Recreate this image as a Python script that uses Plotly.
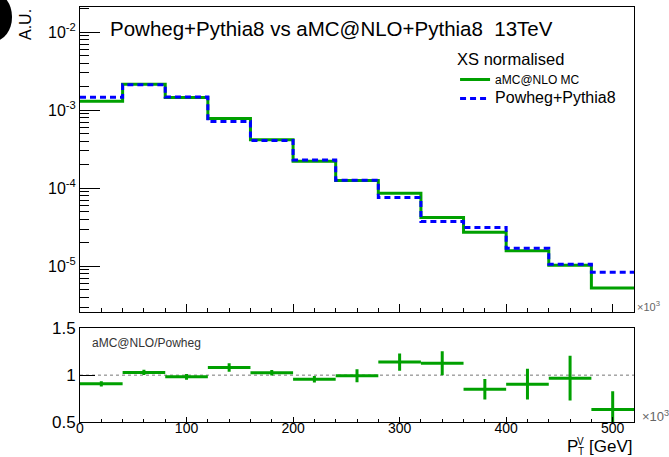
import plotly.graph_objects as go

# pT(V) binning in GeV (40 GeV bins)
bin_edges = [0, 40, 80, 120, 160, 200, 240, 280, 320, 360, 400, 440, 480, 520]

# XS-normalised distributions (A.U.)
amc_nlo = [1.30e-3, 2.15e-3, 1.45e-3, 7.80e-4, 4.16e-4, 2.22e-4, 1.25e-4,
           8.63e-5, 4.20e-5, 2.73e-5, 1.58e-5, 1.03e-5, 5.27e-6]
powheg = [1.46e-3, 2.12e-3, 1.47e-3, 7.14e-4, 4.08e-4, 2.30e-4, 1.26e-4,
          7.58e-5, 3.73e-5, 3.13e-5, 1.70e-5, 1.06e-5, 8.37e-6]

# aMC@NLO / Powheg ratio with statistical uncertainty
ratio = [0.907, 1.029, 0.982, 1.082, 1.025, 0.957, 0.993,
         1.139, 1.128, 0.850, 0.904, 0.968, 0.633]
ratio_err = [0.028, 0.028, 0.03, 0.045, 0.03, 0.035, 0.07,
             0.093, 0.128, 0.109, 0.164, 0.239, 0.196]

y_major = [1e-5, 1e-4, 1e-3, 1e-2]
y_major_text = ["10<sup>-5</sup>", "10<sup>-4</sup>", "10<sup>-3</sup>", "10<sup>-2</sup>"]
y_minor = [m * 10.0 ** e for e in range(-6, -1) for m in range(2, 10)]

GREEN = "#00a000"
BLUE = "#0000ff"
FONT = "Liberation Sans, Arial, Helvetica, sans-serif"

centers = [(a + b) / 2 for a, b in zip(bin_edges[:-1], bin_edges[1:])]
half_widths = [(b - a) / 2 for a, b in zip(bin_edges[:-1], bin_edges[1:])]

fig = go.Figure()

# step histograms: repeat the last value so the final bin closes at the upper edge
fig.add_trace(go.Scatter(
    x=bin_edges, y=amc_nlo + [amc_nlo[-1]], mode="lines", line_shape="hv",
    line=dict(color=GREEN, width=3),
    name='<span style="font-size:12px">aMC@NLO MC</span>',
    xaxis="x", yaxis="y"))
fig.add_trace(go.Scatter(
    x=bin_edges, y=powheg + [powheg[-1]], mode="lines", line_shape="hv",
    line=dict(color=BLUE, width=3, dash="6px,4px"),
    name='<span style="font-size:16px">Powheg+Pythia8</span>',
    xaxis="x", yaxis="y"))

# ratio panel
fig.add_trace(go.Scatter(
    x=centers, y=ratio, mode="markers", marker=dict(size=0.1, color=GREEN),
    error_x=dict(type="data", array=half_widths, color=GREEN, thickness=3, width=0),
    error_y=dict(type="data", array=ratio_err, color=GREEN, thickness=3, width=0),
    showlegend=False, xaxis="x2", yaxis="y2"))

fig.add_shape(type="line", xref="x2 domain", x0=0, x1=1, yref="y2", y0=1, y1=1,
              line=dict(color="#777777", width=1, dash="dot"), layer="below")

axis_common = dict(showline=True, mirror=True, linecolor="black", linewidth=1,
                   showgrid=False, zeroline=False, tickcolor="black")

fig.update_layout(
    width=669, height=457,
    margin=dict(l=80, r=35, t=7, b=35, autoexpand=False),
    paper_bgcolor="white", plot_bgcolor="white",
    font=dict(family=FONT, color="black"),
    xaxis=dict(domain=[0, 1], range=[0, 520], anchor="y", showticklabels=False,
               ticks="inside", tick0=0, dtick=100, ticklen=8,
               minor=dict(ticks="inside", dtick=20, tick0=0, ticklen=4, tickcolor="black"),
               **axis_common),
    yaxis=dict(domain=[0.2651, 1], type="log", range=[-5.586, -1.679], anchor="x",
               tickmode="array", tickvals=y_major, ticktext=y_major_text,
               ticks="inside", ticklen=20, tickfont=dict(size=16),
               minor=dict(ticks="inside", tickmode="array", tickvals=y_minor,
                          ticklen=9, tickcolor="black"),
               **axis_common),
    xaxis2=dict(domain=[0, 1], range=[0, 520], anchor="y2",
                ticks="inside", tick0=0, dtick=100, ticklen=5, tickfont=dict(size=14),
                ticklabelstandoff=-7,
                minor=dict(ticks="inside", dtick=20, tick0=0, ticklen=3, tickcolor="black"),
                **axis_common),
    yaxis2=dict(domain=[0, 0.2258], range=[0.5, 1.5], anchor="x2",
                tickmode="array", tickvals=[0.5, 1, 1.5], ticktext=["0.5", "1", "1.5"],
                ticks="inside", ticklen=15, tickfont=dict(size=17),
                **axis_common),
    legend=dict(x=0.677, y=0.912, xanchor="left", yanchor="top",
                bgcolor="rgba(0,0,0,0)", borderwidth=0,
                font=dict(size=12, family=FONT),
                title=dict(text="XS normalised", font=dict(size=16.5, family=FONT)),
                tracegroupgap=0),
    showlegend=True,
)

annotations = [
    dict(text="Powheg+Pythia8 vs aMC@NLO+Pythia8 \u00a013TeV", x=0.0505, y=0.949,
         xanchor="left", yanchor="middle", font=dict(size=20.5)),
    dict(text="A.U.", x=-0.0993, y=0.959, textangle=-90,
         xanchor="center", yanchor="middle", font=dict(size=16)),
    dict(text="aMC@NLO/Powheg", x=0.018, y=0.191, xanchor="left", yanchor="middle",
         font=dict(size=12, color="#333333")),
    dict(text="\u00d710<sup>3</sup>", x=1.002, y=0.2795, xanchor="left", yanchor="middle",
         font=dict(size=11, color="#666666")),
    dict(text="\u00d710<sup>3</sup>", x=1.011, y=0.0145, xanchor="left", yanchor="middle",
         font=dict(size=13, color="#666666")),
    dict(text="P", x=0.8755, y=-0.0595, xanchor="left", yanchor="middle",
         font=dict(size=17)),
    dict(text="V", x=0.9035, y=-0.047, xanchor="center", yanchor="middle",
         font=dict(size=10)),
    dict(text="T", x=0.9035, y=-0.0715, xanchor="center", yanchor="middle",
         font=dict(size=10)),
    dict(text="[GeV]", x=1.0, y=-0.0595, xanchor="right", yanchor="middle",
         font=dict(size=17)),
]
for a in annotations:
    a.update(xref="paper", yref="paper", showarrow=False)
    fig.add_annotation(**a)

# filled mark in the top-left corner
fig.add_shape(type="circle", xref="paper", yref="paper",
              x0=-0.1877, x1=-0.1227, y0=0.918, y1=1.0337,
              fillcolor="black", line=dict(color="black", width=0))

fig.write_html("out.html")
